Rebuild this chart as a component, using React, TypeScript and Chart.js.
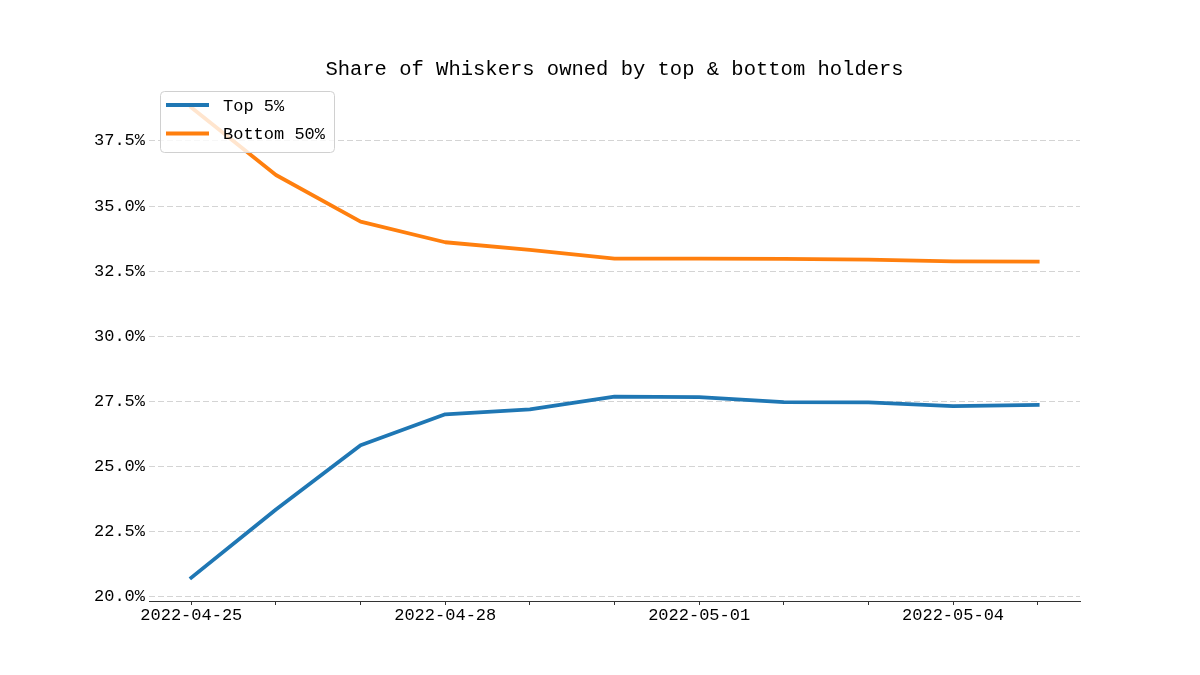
import React, { useEffect, useRef } from "react";
import { Chart, registerables } from "chart.js";

Chart.register(...registerables);

const dates = [
  "2022-04-25", "2022-04-26", "2022-04-27", "2022-04-28", "2022-04-29", "2022-04-30",
  "2022-05-01", "2022-05-02", "2022-05-03", "2022-05-04", "2022-05-05",
];
const top5 = [20.74, 23.36, 25.82, 27.01, 27.2, 27.69, 27.67, 27.48, 27.47, 27.32, 27.37];
const bottom50 = [38.78, 36.19, 34.4, 33.61, 33.32, 32.98, 32.98, 32.97, 32.94, 32.88, 32.87];
const yTicks = [20.0, 22.5, 25.0, 27.5, 30.0, 32.5, 35.0, 37.5];
const xLabelEvery = 3;
const titleText = "Share of Whiskers owned by top & bottom holders";
const FONT = "'Liberation Mono', 'DejaVu Sans Mono', monospace";

const titlePlugin = {
  id: "mplTitle",
  afterDraw(chart: any) {
    const { ctx, chartArea } = chart;
    ctx.save();
    ctx.font = `20.5px ${FONT}`;
    ctx.fillStyle = "#000";
    ctx.textAlign = "center";
    ctx.textBaseline = "alphabetic";
    ctx.fillText(titleText, (chartArea.left + chartArea.right) / 2, 75);
    ctx.restore();
  },
};

const legendPlugin = {
  id: "mplLegend",
  afterDatasetsDraw(chart: any) {
    const { ctx } = chart;
    const x = 160.5, y = 91.5, w = 174, h = 61;
    ctx.save();
    ctx.beginPath();
    ctx.roundRect(x, y, w, h, 4);
    ctx.fillStyle = "rgba(255,255,255,0.8)";
    ctx.fill();
    ctx.strokeStyle = "#d0d0d0";
    ctx.lineWidth = 1;
    ctx.stroke();
    const rows = [105, 133.5];
    chart.data.datasets.forEach((ds: any, i: number) => {
      const yy = rows[i];
      ctx.beginPath();
      ctx.moveTo(166, yy);
      ctx.lineTo(209, yy);
      ctx.strokeStyle = ds.borderColor;
      ctx.lineWidth = 3.8;
      ctx.lineCap = "butt";
      ctx.stroke();
      ctx.font = `17px ${FONT}`;
      ctx.fillStyle = "#000";
      ctx.textAlign = "left";
      ctx.textBaseline = "middle";
      ctx.fillText(ds.label, 223, yy + 1);
    });
    ctx.restore();
  },
};

export default function App() {
  const ref = useRef<HTMLCanvasElement | null>(null);
  useEffect(() => {
    if (!ref.current) return;
    Chart.defaults.font.family = FONT;
    const chart = new Chart(ref.current, {
      type: "line",
      data: {
        labels: dates,
        datasets: [
          {
            label: "Top 5%",
            data: top5,
            borderColor: "#1f77b4",
            backgroundColor: "#1f77b4",
            borderWidth: 3.8,
            pointRadius: 0,
            tension: 0,
            borderJoinStyle: "round",
            borderCapStyle: "square",
          },
          {
            label: "Bottom 50%",
            data: bottom50,
            borderColor: "#ff7f0e",
            backgroundColor: "#ff7f0e",
            borderWidth: 3.8,
            pointRadius: 0,
            tension: 0,
            borderJoinStyle: "round",
            borderCapStyle: "square",
          },
        ],
      },
      options: {
        responsive: false,
        animation: false,
        layout: { padding: { top: 83, right: 120, left: 0, bottom: 0 } },
        plugins: {
          legend: { display: false },
          title: { display: false },
          tooltip: { enabled: false },
        },
        scales: {
          x: {
            type: "category",
            offset: true,
            grid: {
              display: true,
              drawOnChartArea: false,
              drawTicks: true,
              tickLength: 4,
              color: "#333",
              offset: false,
            },
            border: { display: true, color: "#333", width: 1 },
            ticks: {
              autoSkip: false,
              maxRotation: 0,
              minRotation: 0,
              padding: 0,
              color: "#000",
              font: { size: 17, family: FONT },
              callback: (_v: any, i: number) => (i % xLabelEvery === 0 ? dates[i] : ""),
            },
            afterFit: (scale: any) => {
              scale.height = 74;
            },
          },
          y: {
            type: "linear",
            min: 19.846,
            max: 39.72,
            grid: {
              display: true,
              drawTicks: false,
              color: "#d4d4d4",
              lineWidth: 1,
            },
            border: { display: false, dash: [6, 3] },
            ticks: {
              padding: 4,
              color: "#000",
              font: { size: 17, family: FONT },
              callback: (v: any) => Number(v).toFixed(1) + "%",
            },
            afterBuildTicks: (scale: any) => {
              scale.ticks = yTicks.map((v) => ({ value: v }));
            },
            afterFit: (scale: any) => {
              scale.width = 149;
            },
          },
        },
      },
      plugins: [titlePlugin, legendPlugin],
    } as any);
    return () => chart.destroy();
  }, []);
  return (
    <div style={{ position: "fixed", left: 0, top: 0, width: 1200, height: 675, background: "#fff" }}>
      <canvas ref={ref} width={1200} height={675} style={{ width: 1200, height: 675 }} />
    </div>
  );
}
